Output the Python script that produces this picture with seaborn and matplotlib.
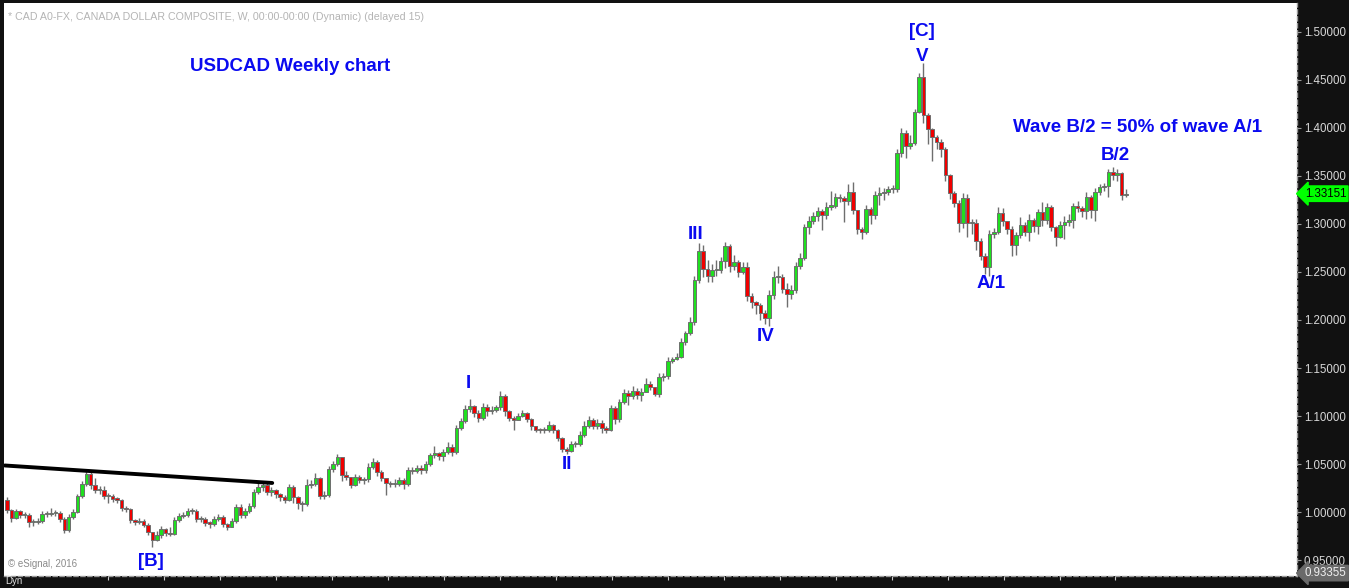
import numpy as np
import matplotlib
matplotlib.use("Agg")
import matplotlib.pyplot as plt
import matplotlib.transforms as mtransforms
import seaborn as sns

# weekly USDCAD candles (oldest first)
first_open = 1.013
closes = [
    1.002, 0.994, 1.001, 0.997, 0.997, 0.990, 0.990, 0.991, 0.998, 0.998,
    0.999, 0.999, 0.993, 0.981, 0.995, 1.000, 1.017, 1.029, 1.040, 1.028,
    1.023, 1.023, 1.017, 1.017, 1.014, 1.013, 1.004, 1.003, 0.992, 0.990,
    0.991, 0.987, 0.979, 0.971, 0.976, 0.982, 0.978, 0.977, 0.992, 0.996,
    0.997, 1.001, 1.001, 0.993, 0.993, 0.989, 0.988, 0.993, 0.995, 0.988,
    0.985, 0.991, 1.005, 0.997, 1.001, 1.006, 1.021, 1.026, 1.028, 1.021,
    1.023, 1.019, 1.016, 1.013, 1.026, 1.016, 1.010, 1.008, 1.028, 1.029,
    1.035, 1.017, 1.018, 1.045, 1.050, 1.057, 1.039, 1.037, 1.028, 1.037,
    1.033, 1.034, 1.047, 1.052, 1.042, 1.035, 1.030, 1.029, 1.029, 1.033,
    1.029, 1.044, 1.043, 1.046, 1.044, 1.050, 1.059, 1.062, 1.058, 1.063,
    1.068, 1.063, 1.088, 1.095, 1.107, 1.110, 1.103, 1.098, 1.109, 1.105,
    1.106, 1.109, 1.121, 1.105, 1.098, 1.096, 1.100, 1.103, 1.097, 1.090,
    1.086, 1.085, 1.085, 1.091, 1.085, 1.077, 1.066, 1.064, 1.071, 1.071,
    1.080, 1.090, 1.096, 1.090, 1.093, 1.088, 1.086, 1.108, 1.097, 1.115,
    1.124, 1.121, 1.126, 1.122, 1.125, 1.133, 1.130, 1.123, 1.141, 1.142,
    1.157, 1.159, 1.162, 1.177, 1.186, 1.198, 1.242, 1.272, 1.253, 1.246,
    1.252, 1.252, 1.261, 1.277, 1.256, 1.260, 1.250, 1.255, 1.225, 1.219,
    1.216, 1.207, 1.202, 1.226, 1.245, 1.245, 1.232, 1.227, 1.231, 1.256,
    1.265, 1.297, 1.303, 1.308, 1.313, 1.309, 1.318, 1.319, 1.328, 1.327,
    1.324, 1.333, 1.315, 1.295, 1.292, 1.316, 1.309, 1.330, 1.332, 1.333,
    1.336, 1.336, 1.374, 1.395, 1.381, 1.384, 1.417, 1.453, 1.413, 1.399,
    1.391, 1.385, 1.378, 1.351, 1.332, 1.322, 1.301, 1.327, 1.301, 1.301,
    1.282, 1.267, 1.255, 1.290, 1.292, 1.311, 1.303, 1.295, 1.278, 1.288,
    1.299, 1.292, 1.304, 1.298, 1.312, 1.304, 1.318, 1.297, 1.286, 1.299,
    1.302, 1.304, 1.319, 1.317, 1.313, 1.328, 1.315, 1.333, 1.338, 1.339,
    1.354, 1.351, 1.353, 1.330, 1.3315,
]
highs = [
    1.016, 1.003, 1.003, 1.002, 1.000, 0.999, 0.993, 0.994, 1.001, 1.001,
    1.004, 1.002, 1.001, 0.995, 0.998, 1.003, 1.019, 1.032, 1.043, 1.043,
    1.036, 1.027, 1.027, 1.020, 1.019, 1.016, 1.014, 1.006, 1.004, 0.993,
    0.994, 0.993, 0.989, 0.978, 0.980, 0.986, 0.983, 0.985, 0.995, 0.999,
    1.000, 1.004, 1.004, 1.003, 0.996, 0.995, 0.991, 0.996, 0.998, 0.997,
    0.989, 0.994, 1.008, 1.008, 1.004, 1.010, 1.024, 1.031, 1.031, 1.030,
    1.026, 1.024, 1.020, 1.018, 1.029, 1.028, 1.017, 1.012, 1.034, 1.033,
    1.041, 1.037, 1.022, 1.048, 1.053, 1.060, 1.057, 1.043, 1.037, 1.040,
    1.039, 1.037, 1.051, 1.056, 1.054, 1.044, 1.036, 1.032, 1.034, 1.037,
    1.035, 1.047, 1.047, 1.049, 1.049, 1.053, 1.062, 1.069, 1.063, 1.066,
    1.073, 1.071, 1.091, 1.098, 1.112, 1.118, 1.112, 1.106, 1.114, 1.113,
    1.110, 1.112, 1.126, 1.123, 1.106, 1.100, 1.103, 1.106, 1.104, 1.098,
    1.090, 1.088, 1.089, 1.095, 1.092, 1.087, 1.078, 1.068, 1.074, 1.074,
    1.084, 1.095, 1.100, 1.098, 1.097, 1.096, 1.090, 1.111, 1.110, 1.118,
    1.128, 1.127, 1.131, 1.129, 1.129, 1.140, 1.136, 1.130, 1.145, 1.145,
    1.162, 1.162, 1.166, 1.181, 1.189, 1.203, 1.246, 1.280, 1.278, 1.262,
    1.258, 1.262, 1.266, 1.281, 1.279, 1.268, 1.262, 1.260, 1.260, 1.228,
    1.220, 1.218, 1.210, 1.231, 1.251, 1.256, 1.248, 1.238, 1.236, 1.260,
    1.270, 1.300, 1.308, 1.312, 1.318, 1.316, 1.323, 1.334, 1.332, 1.331,
    1.329, 1.342, 1.344, 1.315, 1.297, 1.320, 1.318, 1.334, 1.338, 1.337,
    1.340, 1.341, 1.378, 1.400, 1.398, 1.393, 1.420, 1.457, 1.468, 1.415,
    1.400, 1.393, 1.388, 1.380, 1.352, 1.334, 1.325, 1.332, 1.331, 1.305,
    1.305, 1.285, 1.270, 1.294, 1.296, 1.318, 1.317, 1.303, 1.298, 1.292,
    1.307, 1.302, 1.310, 1.306, 1.316, 1.323, 1.322, 1.320, 1.298, 1.303,
    1.308, 1.310, 1.322, 1.324, 1.319, 1.333, 1.330, 1.337, 1.342, 1.343,
    1.357, 1.359, 1.357, 1.354, 1.336,
]
lows = [
    0.999, 0.990, 0.993, 0.994, 0.994, 0.985, 0.986, 0.988, 0.989, 0.995,
    0.996, 0.996, 0.990, 0.978, 0.979, 0.993, 0.999, 1.015, 1.027, 1.024,
    1.020, 1.019, 1.014, 1.009, 1.011, 1.010, 1.001, 1.000, 0.989, 0.987,
    0.988, 0.984, 0.976, 0.9635, 0.970, 0.973, 0.975, 0.975, 0.976, 0.990,
    0.994, 0.995, 0.998, 0.990, 0.990, 0.986, 0.983, 0.986, 0.991, 0.985,
    0.981, 0.984, 0.989, 0.994, 0.994, 0.999, 1.004, 1.019, 1.022, 1.018,
    1.017, 1.015, 1.012, 1.010, 1.012, 1.010, 1.003, 1.001, 1.006, 1.025,
    1.027, 1.014, 1.014, 1.016, 1.042, 1.048, 1.032, 1.033, 1.025, 1.027,
    1.030, 1.029, 1.031, 1.045, 1.038, 1.032, 1.018, 1.026, 1.026, 1.027,
    1.024, 1.027, 1.040, 1.041, 1.040, 1.041, 1.048, 1.056, 1.054, 1.053,
    1.060, 1.058, 1.061, 1.085, 1.093, 1.104, 1.099, 1.094, 1.096, 1.100,
    1.102, 1.104, 1.106, 1.100, 1.095, 1.085, 1.096, 1.099, 1.094, 1.086,
    1.083, 1.082, 1.082, 1.083, 1.082, 1.074, 1.063, 1.061, 1.063, 1.068,
    1.069, 1.078, 1.088, 1.087, 1.087, 1.082, 1.082, 1.084, 1.092, 1.094,
    1.113, 1.112, 1.118, 1.118, 1.116, 1.126, 1.127, 1.121, 1.120, 1.137,
    1.139, 1.155, 1.158, 1.160, 1.174, 1.184, 1.195, 1.238, 1.245, 1.240,
    1.240, 1.246, 1.249, 1.254, 1.250, 1.252, 1.245, 1.248, 1.220, 1.212,
    1.206, 1.200, 1.196, 1.194, 1.222, 1.238, 1.228, 1.214, 1.222, 1.228,
    1.253, 1.262, 1.290, 1.300, 1.303, 1.294, 1.305, 1.315, 1.317, 1.323,
    1.302, 1.320, 1.310, 1.290, 1.284, 1.290, 1.300, 1.305, 1.320, 1.325,
    1.330, 1.332, 1.333, 1.370, 1.369, 1.378, 1.382, 1.415, 1.405, 1.383,
    1.365, 1.378, 1.370, 1.345, 1.326, 1.318, 1.292, 1.296, 1.286, 1.290,
    1.273, 1.262, 1.248, 1.246, 1.285, 1.290, 1.298, 1.290, 1.267, 1.268,
    1.285, 1.287, 1.282, 1.292, 1.290, 1.298, 1.300, 1.293, 1.277, 1.285,
    1.284, 1.298, 1.296, 1.312, 1.307, 1.305, 1.306, 1.303, 1.330, 1.334,
    1.328, 1.346, 1.345, 1.325, 1.328,
]

# wave labels: (text, candle index, price)
wave_labels = [
    ("[B]", 32.7, 0.949), ("I", 104.7, 1.134), ("II", 127.1, 1.0496),
    ("III", 156.2, 1.289), ("IV", 172.1, 1.183), ("V", 207.7, 1.474),
    ("[C]", 207.7, 1.500), ("A/1", 223.4, 1.2385), ("B/2", 251.5, 1.3713),
]
trend_touch = [18, 58]          # candles whose highs define the trendline
y_ticks = [0.95, 1.00, 1.05, 1.10, 1.15, 1.20, 1.25, 1.30, 1.35, 1.40, 1.45, 1.50]
last_price = 1.33151
bottom_price = 0.93355

sns.set_style("white")
plt.rcParams['font.family'] = ['Liberation Sans', 'DejaVu Sans']

closes = np.array(closes)
opens = np.concatenate([[first_open], closes[:-1]])
highs = np.maximum(np.array(highs), np.maximum(opens, closes))
lows = np.minimum(np.array(lows), np.minimum(opens, closes))
idx = np.arange(len(closes))

fig = plt.figure(figsize=(13.49, 5.88), dpi=100, facecolor="#111111")
ax = fig.add_axes([4 / 1349, 12 / 588, 1293 / 1349, 573 / 588])
ax.set_facecolor("white")

wick_col = "#6e6e6e"
ax.vlines(idx, lows, highs, color=wick_col, lw=1.0, zorder=2)
body_lo = np.minimum(opens, closes)
body_h = np.maximum(np.abs(closes - opens), 0.0012)
cols = np.where(closes >= opens, "#1fe01f", "#f00000")
ax.bar(idx, body_h, bottom=body_lo, width=0.8, color=cols,
       edgecolor=wick_col, linewidth=0.7, zorder=3)

# trendline through the two highs, drawn from the left edge
x0, x1 = trend_touch
slope = (highs[x1] - highs[x0]) / (x1 - x0)
tx = np.array([-0.5, 60.2])
ty = highs[x0] + slope * (tx - x0)
sns.lineplot(x=tx, y=ty, color="black", lw=2.8, ax=ax, zorder=4)

ax.set_xlim(-0.68, 292.8)
ax.set_ylim(0.9335, 1.530)

for s in ["top", "left"]:
    ax.spines[s].set_visible(False)
for s in ["right", "bottom"]:
    ax.spines[s].set_linestyle((0, (3, 2)))
    ax.spines[s].set_color("#9a9a9a")
    ax.spines[s].set_linewidth(1.0)

ax.yaxis.tick_right()
ax.set_yticks(y_ticks)
ax.set_yticklabels([f"{v:.5f}" for v in y_ticks])
ax.tick_params(axis="y", colors="#9a9a9a", labelcolor="#d8d8d8", length=3,
               pad=2, labelsize=8.3, right=True)
ax.set_xticks(np.arange(23, len(closes), 12.7))
ax.tick_params(axis="x", colors="#cccccc", length=3, width=0.8,
               labelbottom=False, bottom=True, direction="out")
ax.set_xlabel("")
ax.set_ylabel("")

ax.text(0.003, 0.985, "* CAD A0-FX, CANADA DOLLAR COMPOSITE, W, 00:00-00:00 (Dynamic) (delayed 15)",
        transform=ax.transAxes, fontsize=7.7, color="#b4b4b4", va="top", ha="left")
ax.text(0.003, 0.012, "\u00a9 eSignal, 2016", transform=ax.transAxes,
        fontsize=7, color="#8a8a8a", va="bottom", ha="left")

blue = "#0a0af0"
ax.text(64.2, 1.4637, "USDCAD Weekly chart", color=blue, fontsize=13.5,
        fontweight="bold", ha="center", va="center")
ax.text(256.5, 1.400, "Wave B/2 = 50% of wave A/1", color=blue, fontsize=13.5,
        fontweight="bold", ha="center", va="center")
for txt, xi, yv in wave_labels:
    ax.text(xi, yv, txt, color=blue, fontsize=13.5, fontweight="bold",
            ha="center", va="center")

# price tags on the right axis
tr = mtransforms.blended_transform_factory(ax.transAxes, ax.transData)
ax.text(1.006, last_price, f"{last_price:.5f}", transform=tr, fontsize=8.3,
        color="black", va="center", ha="left",
        bbox=dict(boxstyle="larrow,pad=0.15", fc="#00ff00", ec="#00ff00"))
ax.text(1.006, bottom_price + 0.003, f"{bottom_price:.5f}", transform=tr, fontsize=8.3,
        color="#f0f0f0", va="center", ha="left",
        bbox=dict(boxstyle="larrow,pad=0.15", fc="#6a6a6a", ec="#6a6a6a"))

fig.text(5 / 1349, 2 / 588, "Dyn", color="#e0e0e0", fontsize=7, va="bottom", ha="left")

fig.savefig("out.png", dpi=100, facecolor=fig.get_facecolor())
